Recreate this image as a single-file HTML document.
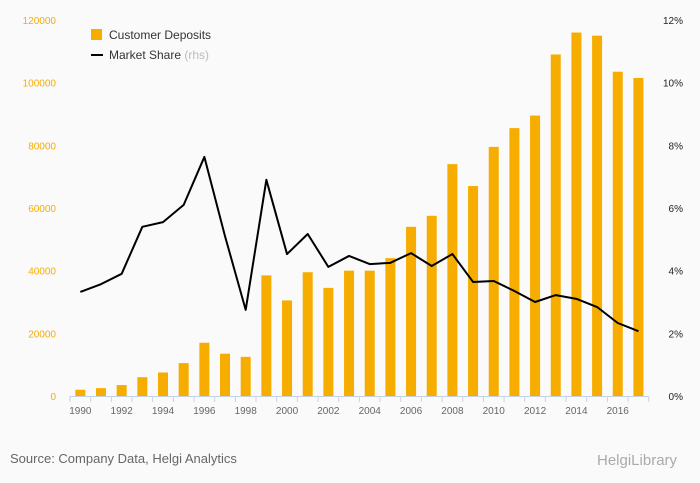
<!DOCTYPE html>
<html><head><meta charset="utf-8"><style>
body{margin:0;background:#fafafa;font-family:"Liberation Sans",sans-serif}
svg{display:block}
</style></head><body>
<svg id="c" width="700" height="483">
<rect width="700" height="483" fill="#fafafa"/>
<g id="g"></g>
<text x="10" y="463" font-size="13" fill="#666">Source: Company Data, Helgi Analytics</text>
<text x="597" y="465" font-size="15" fill="#aaa">HelgiLibrary</text>
<rect x="91" y="29" width="11" height="11" fill="#f6ad00"/>
<text x="109" y="39" font-size="12" fill="#333">Customer Deposits</text>
<line x1="91" y1="55" x2="103" y2="55" stroke="#000" stroke-width="2"/>
<text x="109" y="59" font-size="12" fill="#333">Market Share <tspan fill="#bbb">(rhs)</tspan></text>
</svg>
<script>
const years=[1990,1991,1992,1993,1994,1995,1996,1997,1998,1999,2000,2001,2002,2003,2004,2005,2006,2007,2008,2009,2010,2011,2012,2013,2014,2015,2016,2017];
const deposits=[2000,2500,3500,6000,7500,10500,17000,13500,12500,38500,30500,39500,34500,40000,40000,44000,54000,57500,74000,67000,79500,85500,89500,109000,116000,115000,103500,101500];
const share=[3.32,3.57,3.9,5.4,5.55,6.1,7.63,5.1,2.75,6.9,4.53,5.17,4.12,4.47,4.21,4.25,4.56,4.15,4.53,3.64,3.67,3.35,3.0,3.22,3.1,2.84,2.33,2.07];
const leftTicks=[0,20000,40000,60000,80000,100000,120000];
const rightTicks=[0,2,4,6,8,10,12];
const X0=70,Y0=396,Y1=20,n=years.length,cw=20.67,X1=X0+cw*n;
const xc=i=>X0+cw*(i+0.5);
const yl=v=>Y0-(v/120000)*(Y0-Y1);
const yr=v=>Y0-(v/12)*(Y0-Y1);
const g=document.getElementById('g');
const NS='http://www.w3.org/2000/svg';
function mk(t,a){const e=document.createElementNS(NS,t);for(const k in a)e.setAttribute(k,a[k]);g.appendChild(e);return e;}
leftTicks.forEach(v=>{const e=mk('text',{x:56,y:yl(v)+4,'font-size':10,fill:'#f6ad00','text-anchor':'end'});e.textContent=v;

});
rightTicks.forEach(v=>{const e=mk('text',{x:683,y:yr(v)+4,'font-size':10,fill:'#222','text-anchor':'end'});e.textContent=v+'%';

});
deposits.forEach((v,i)=>{const r=mk('rect',{x:xc(i)-5,y:yl(v),width:10,height:Y0-yl(v),fill:'#f6ad00'});

});
const ax=mk('line',{x1:X0,y1:Y0+0.5,x2:X1,y2:Y0+0.5,stroke:'#c5d3e8'});


for(let i=0;i<=n;i++){const t=mk('line',{x1:X0+cw*i,y1:Y0,x2:X0+cw*i,y2:Y0+6,stroke:'#c5d3e8'});

}
years.forEach((y,i)=>{if(i%2)return;const e=mk('text',{x:xc(i),y:Y0+18,'font-size':10,fill:'#666','text-anchor':'middle'});e.textContent=y;

});
const p=mk('polyline',{points:share.map((v,i)=>xc(i)+','+yr(v)).join(' '),fill:'none',stroke:'#000','stroke-width':2,'stroke-linejoin':'round'});


</script>
</body></html>
